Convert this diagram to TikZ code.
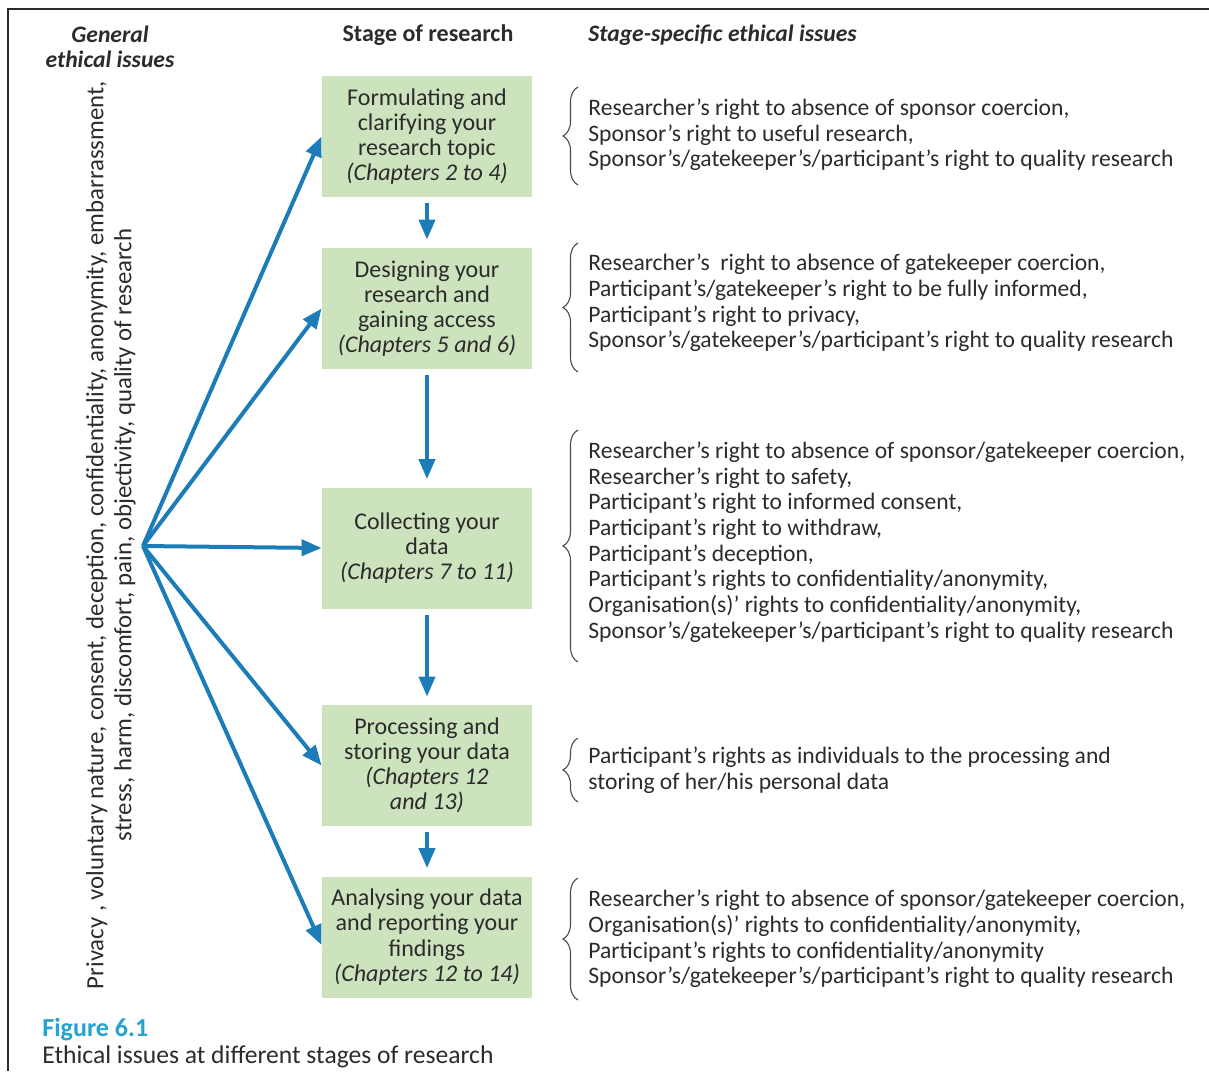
\documentclass[tikz,border=0pt]{standalone}
\usepackage{fontspec}
\setmainfont{Carlito}
\usetikzlibrary{arrows.meta,decorations.pathreplacing}
\definecolor{arrowblue}{HTML}{1C7CB8}
\definecolor{boxgreen}{HTML}{CDE3BE}
\definecolor{figblue}{HTML}{22A3D0}
\definecolor{txt}{HTML}{2B2B2B}
\begin{document}
\begin{tikzpicture}[x=0.5pt,y=-0.5pt,
  stagebox/.style={fill=boxgreen, minimum width=105pt, minimum height=60.5pt, align=center,
    font=\fontsize{12}{12.6}\selectfont, text=txt, inner sep=0pt},
  flow/.style={draw=arrowblue, line width=2pt, -{Triangle[length=10pt,width=8pt]}},
  vflow/.style={flow, shorten <=3pt, shorten >=4pt},
  issues/.style={anchor=west, align=left, font=\fontsize{11.8}{12.85}\selectfont, text=txt, inner sep=0pt},
  bracestyle/.style={decorate, decoration={brace, amplitude=7.5pt}, draw=txt!85, line width=0.55pt},
  head/.style={font=\fontsize{11.8}{12.6}\selectfont, text=txt, inner sep=0pt},
]
\useasboundingbox (0,0) rectangle (1209,1071);
% frame
\draw[line width=1.2pt, txt] (1209,9) -- (8,9) -- (8,1071);

% headers
\node[head, align=center, font=\fontsize{11.8}{12.6}\selectfont\itshape\bfseries] (hgen) at (110,47) {General\\ethical issues};
\node[head, font=\fontsize{12}{12.6}\selectfont\bfseries] (hstage) at (428,35) {Stage of research};
\node[head, anchor=west, font=\fontsize{11.8}{12.6}\selectfont\itshape\bfseries] (hspec) at (588,35) {Stage-specific ethical issues};

% stage boxes
\node[stagebox] (b1) at (427,136.5) {Formulating and\\clarifying your\\research topic\\\textit{(Chapters 2 to 4)}};
\node[stagebox] (b2) at (427,308.5) {Designing your\\research and\\gaining access\\\textit{(Chapters 5 and 6)}};
\node[stagebox] (b3) at (427,548) {Collecting your\\data\\\textit{(Chapters 7 to 11)}};
\node[stagebox] (b4) at (427,765.5) {Processing and\\storing your data\\\textit{(Chapters 12}\\\textit{and 13)}};
\node[stagebox] (b5) at (427,937) {Analysing your data\\and reporting your\\findings\\\textit{(Chapters 12 to 14)}};

% vertical flow
\draw[vflow] (b1) -- (b2);
\draw[vflow] (b2) -- (b3);
\draw[vflow] (b3) -- (b4);
\draw[vflow] (b4) -- (b5);

% general issues (rotated)
\node[head, rotate=90, align=center, font=\fontsize{12.4}{14}\selectfont] (gen) at (111,535)
  {Privacy , voluntary nature, consent, deception, confidentiality, anonymity, embarrassment,\\
   stress, harm, discomfort, pain, objectivity, quality of research};
\coordinate (hub) at (143,546);
\draw[flow] (hub) -- (b1.west);
\draw[flow] (hub) -- (b2.west);
\draw[flow] (hub) -- (b3.west);
\draw[flow] (hub) -- (b4.west);
\draw[flow] (hub) -- ([yshift=-4pt]b5.west);

% stage-specific issues
\node[issues] (i1) at (588,135) {Researcher’s right to absence of sponsor coercion,\\
Sponsor’s right to useful research,\\
Sponsor’s/gatekeeper’s/participant’s right to quality research};
\node[issues] (i2) at (588,303) {Researcher’s\ \ right to absence of gatekeeper coercion,\\
Participant’s/gatekeeper’s right to be fully informed,\\
Participant’s right to privacy,\\
Sponsor’s/gatekeeper’s/participant’s right to quality research};
\node[issues] (i3) at (588,542) {Researcher’s right to absence of sponsor/gatekeeper coercion,\\
Researcher’s right to safety,\\
Participant’s right to informed consent,\\
Participant’s right to withdraw,\\
Participant’s deception,\\
Participant’s rights to confidentiality/anonymity,\\
Organisation(s)' rights to confidentiality/anonymity,\\
Sponsor’s/gatekeeper’s/participant’s right to quality research};
\node[issues] (i4) at (588,770.5) {Participant’s rights as individuals to the processing and\\
storing of her/his personal data};
\node[issues] (i5) at (588,939) {Researcher’s right to absence of sponsor/gatekeeper coercion,\\
Organisation(s)' rights to confidentiality/anonymity,\\
Participant’s rights to confidentiality/anonymity\\
Sponsor’s/gatekeeper’s/participant’s right to quality research};

% braces
\draw[bracestyle] (578,185) -- (578,87);
\draw[bracestyle] (578,372) -- (578,243);
\draw[bracestyle] (578,662) -- (578,430);
\draw[bracestyle] (578,802) -- (578,738);
\draw[bracestyle] (578,1000) -- (578,878);

% caption
\node[head, anchor=west, text=figblue, font=\fontsize{13}{13}\selectfont\bfseries] (fig) at (42,1030) {Figure 6.1};
\node[head, anchor=west, font=\fontsize{12.8}{13}\selectfont] (cap) at (42,1057) {Ethical issues at different stages of research};
\end{tikzpicture}
\end{document}
